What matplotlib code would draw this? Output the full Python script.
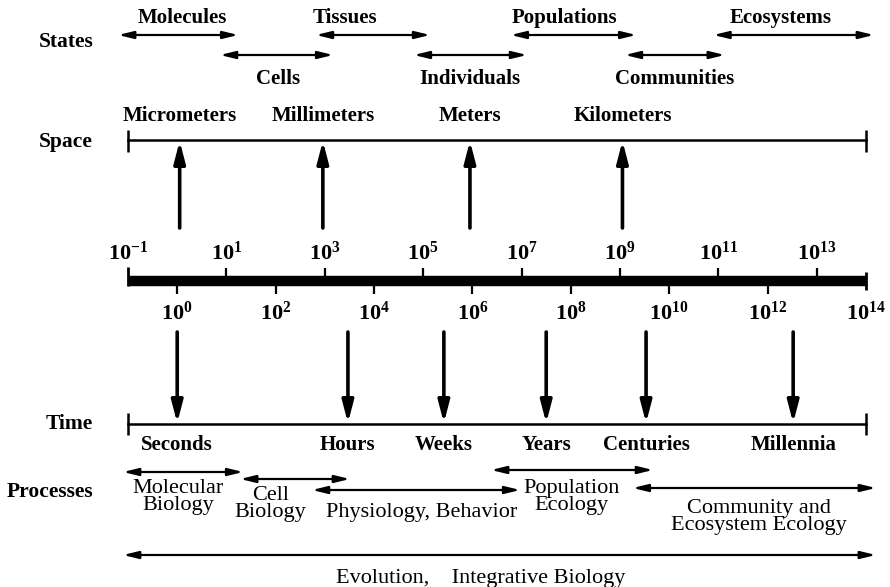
import matplotlib
matplotlib.use("Agg")
from matplotlib import pyplot as plt

plt.rcParams['font.family'] = ['Liberation Serif', 'DejaVu Serif']
plt.rcParams['mathtext.fontset'] = 'custom'
plt.rcParams['mathtext.rm'] = 'Liberation Serif:bold'
plt.rcParams['mathtext.it'] = 'Liberation Serif:bold'
plt.rcParams['mathtext.bf'] = 'Liberation Serif:bold'

# log10 scale positions (orders of magnitude)
states = ['Molecules', 'Cells', 'Tissues', 'Individuals',
          'Populations', 'Communities', 'Ecosystems']
state_lo = [-1.2, 0.87, 2.82, 4.81, 6.78, 9.10, 10.9]
state_hi = [1.24, 3.17, 5.14, 7.11, 9.33, 11.13, 14.16]
state_text_x = [0.10, 2.05, 3.41, 5.95, 7.88, 10.12, 12.27]
state_row = [0, 1, 0, 1, 0, 1, 0]

space_labels = ['Micrometers', 'Millimeters', 'Meters', 'Kilometers']
space_exp = [0.05, 2.96, 5.95, 9.05]

time_labels = ['Seconds', 'Hours', 'Weeks', 'Years', 'Centuries', 'Millennia']
time_exp = [0.0, 3.47, 5.42, 7.50, 9.53, 12.52]

up_ticks = [-1, 1, 3, 5, 7, 9, 11, 13]
down_ticks = [0, 2, 4, 6, 8, 10, 12, 14]

processes = ['Molecular\nBiology', 'Cell\nBiology', 'Physiology, Behavior',
             'Population\nEcology', 'Community and\nEcosystem Ecology',
             'Evolution,    Integrative Biology']
proc_lo = [-1.10, 1.28, 2.74, 6.38, 9.26, -1.10]
proc_hi = [1.34, 3.51, 6.97, 9.67, 14.20, 14.20]
proc_text_x = [0.02, 1.89, 4.96, 8.02, 11.83, 6.17]
proc_arrow_y = [472, 479, 490, 470, 488, 555]
proc_text_y = [497, 504, 512, 497, 517, 578]

fig = plt.figure(figsize=(8.9, 5.87), dpi=100)
ax = fig.add_axes([0, 0, 1, 1])
ax.set_xlim(-3.602, 14.488)
ax.set_ylim(587, 0)
ax.axis('off')

def dbl_arrow(x0, x1, y, lw=1.6):
    ax.annotate('', xy=(x1, y), xytext=(x0, y),
                arrowprops=dict(arrowstyle='<|-|>,head_length=0.9,head_width=0.22',
                                lw=lw, color='k', shrinkA=0, shrinkB=0))

def one_arrow(x, y0, y1):
    ax.annotate('', xy=(x, y1), xytext=(x, y0),
                arrowprops=dict(arrowstyle='-|>,head_length=1.3,head_width=0.34',
                                lw=2.6, color='k', shrinkA=0, shrinkB=0))

# left row titles
for name, y in [('States', 42), ('Space', 142), ('Time', 424), ('Processes', 492)]:
    ax.text(-1.71, y, name, ha='right', va='center', fontsize=15.5, fontweight='bold')

# states
row_y = [35, 55]
label_y = [18, 79]
for s, lo, hi, tx, r in zip(states, state_lo, state_hi, state_text_x, state_row):
    dbl_arrow(lo, hi, row_y[r])
    ax.text(tx, label_y[r], s, ha='center', va='center', fontsize=15, fontweight='bold')

# space line
ax.plot([-1, 14], [140, 140], color='k', lw=1.8)
ax.vlines([-1, 14], 130, 152, color='k', lw=1.8)
for lab, e in zip(space_labels, space_exp):
    one_arrow(e, 228, 141)
    ax.text(e, 116, lab, ha='center', va='center', fontsize=15, fontweight='bold')

# main scale bar
ax.plot([-1, 14], [281, 281], color='k', lw=7.5, solid_capstyle='butt')
ax.vlines([-1], 267, 286, color='k', lw=2)
ax.vlines([14], 272, 290, color='k', lw=2)
ax.vlines(up_ticks[1:], 268, 281, color='k', lw=1.6)
ax.vlines(down_ticks[:-1], 281, 294, color='k', lw=1.6)
for e in up_ticks:
    ax.text(e, 253, r'$10^{%d}$' % e, ha='center', va='center', fontsize=16)
for e in down_ticks:
    ax.text(e, 313, r'$10^{%d}$' % e, ha='center', va='center', fontsize=16)

# time line
ax.plot([-1, 14], [424, 424], color='k', lw=1.8)
ax.vlines([-1, 14], 413, 435, color='k', lw=1.8)
for lab, e in zip(time_labels, time_exp):
    one_arrow(e, 332, 423)
    ax.text(e, 445, lab, ha='center', va='center', fontsize=15, fontweight='bold')

# processes
for p, lo, hi, tx, ay, ty in zip(processes, proc_lo, proc_hi, proc_text_x,
                                 proc_arrow_y, proc_text_y):
    dbl_arrow(lo, hi, ay)
    ax.text(tx, ty, p, ha='center', va='center', fontsize=16,
            linespacing=0.92, multialignment='center')

fig.savefig('out.png', dpi=100)
